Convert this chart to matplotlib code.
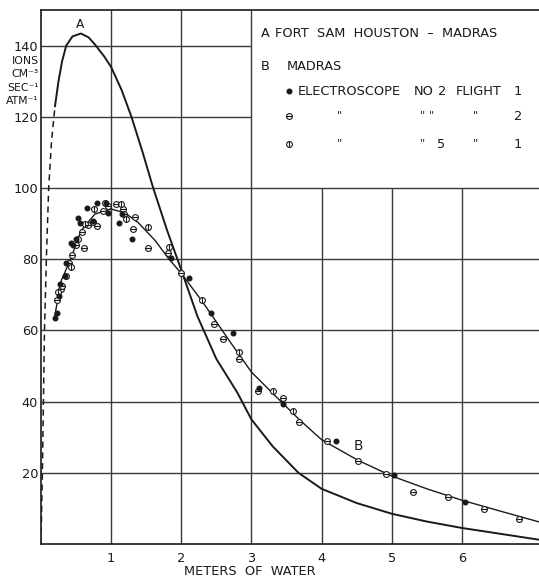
import matplotlib
matplotlib.use("Agg")
import matplotlib.pyplot as plt

plt.rcParams["font.family"] = "DejaVu Sans"

# curve A (Fort Sam Houston - Madras), dashed part near the surface
dash_x = [0.0, 0.02, 0.05, 0.08, 0.11, 0.15, 0.20]
dash_y = [0.0, 20.0, 60.0, 82.0, 100.0, 113.0, 123.0]
curveA_x = [0.20, 0.25, 0.30, 0.36, 0.45, 0.57, 0.68, 0.77, 0.90, 1.00, 1.15, 1.29,
            1.45, 1.60, 1.80, 2.00, 2.23, 2.50, 2.80, 3.00, 3.30, 3.67, 4.00, 4.50,
            5.00, 5.50, 6.00, 6.50, 7.10]
curveA_y = [123.0, 130.0, 135.5, 140.0, 142.6, 143.4, 142.3, 140.3, 137.0, 134.0, 127.5, 120.0,
            110.0, 100.0, 88.0, 77.0, 64.0, 52.0, 42.5, 35.0, 27.5, 20.0, 15.5, 11.5,
            8.5, 6.3, 4.5, 3.0, 1.2]

# curve B (Madras)
curveB_x = [0.19, 0.29, 0.43, 0.57, 0.77, 1.00, 1.20, 1.39, 1.63, 1.81, 2.00, 2.29,
            2.71, 3.00, 3.31, 3.68, 4.00, 4.52, 5.00, 5.50, 6.00, 6.50, 7.10]
curveB_y = [63.4, 74.0, 80.4, 88.0, 92.7, 94.1, 93.0, 90.2, 85.2, 80.4, 76.0, 68.4,
            56.4, 48.3, 42.2, 35.0, 29.3, 23.5, 19.1, 15.5, 12.3, 9.5, 6.2]

# electroscope no 2, flight 1 (filled dots)
e2f1_x = [0.20, 0.23, 0.26, 0.27, 0.34, 0.35, 0.43, 0.46, 0.50, 0.53, 0.56, 0.66, 0.74,
          0.80, 0.93, 0.96, 1.11, 1.16, 1.30, 1.85, 2.11, 2.43, 2.74, 3.11, 3.45,
          4.20, 5.03, 6.05]
e2f1_y = [63.4, 64.8, 69.8, 73.0, 75.4, 78.8, 84.6, 84.0, 85.8, 91.6, 90.2, 94.4, 90.8,
          95.8, 95.8, 93.0, 90.2, 92.7, 85.8, 80.2, 74.6, 64.8, 59.2, 43.8, 39.4,
          29.0, 19.3, 11.8]

# electroscope no 2, flight 2 (circle with horizontal bar)
e2f2_x = [0.23, 0.29, 0.30, 0.40, 0.44, 0.50, 0.59, 0.61, 0.67, 0.74, 0.80, 0.89, 0.96,
          1.07, 1.17, 1.19, 1.31, 1.34, 1.53, 1.81, 2.00, 2.46, 2.60, 2.82, 3.10,
          3.45, 3.68, 4.08, 4.52, 4.92, 5.31, 5.80, 6.32, 6.82]
e2f2_y = [68.4, 71.5, 72.6, 78.8, 81.3, 84.0, 87.7, 83.2, 89.7, 90.5, 89.4, 93.6, 95.0,
          95.5, 94.1, 92.7, 88.5, 91.9, 83.2, 81.6, 76.0, 61.7, 57.5, 52.0, 43.0,
          41.0, 34.4, 28.8, 23.4, 19.6, 14.6, 13.2, 9.8, 7.0]

# electroscope no 5, flight 1 (circle with vertical bar)
e5f1_x = [0.24, 0.36, 0.43, 0.53, 0.63, 0.76, 0.91, 1.14, 1.21, 1.53, 1.83, 2.29,
          2.82, 3.31, 3.59]
e5f1_y = [70.7, 75.4, 77.7, 85.8, 89.9, 94.1, 95.8, 95.5, 91.3, 89.1, 83.5, 68.4,
          54.0, 43.0, 37.4]

xticks = [1, 2, 3, 4, 5, 6]
yticks = [20, 40, 60, 80, 100, 120, 140]
ylabel_lines = ["IONS", "CM\u207b\u00b3", "SEC\u207b\u00b9", "ATM\u207b\u00b9"]

ink = "#1a1a1a"
grid_c = "#3a3a3a"
fs = 9.3

fig = plt.figure(figsize=(5.39, 5.79), dpi=100)
ax = fig.add_axes([0.076, 0.0605, 0.924, 0.9222])
ax.set_xlim(0, 7.1)
ax.set_ylim(0, 150)

# grid, leaving the legend box (upper right) clear
ax.vlines([1, 2, 3], 0, 150, color=grid_c, lw=1.0, zorder=1)
ax.vlines([4, 5, 6], 0, 100, color=grid_c, lw=1.0, zorder=1)
ax.hlines([20, 40, 60, 80, 100], 0, 7.1, color=grid_c, lw=1.0, zorder=1)
ax.hlines([120, 140], 0, 3, color=grid_c, lw=1.0, zorder=1)

# curves
ax.plot(dash_x, dash_y, color=ink, lw=1.1, dashes=(4, 3), zorder=3)
ax.plot(curveA_x, curveA_y, color=ink, lw=1.4, zorder=3)
ax.plot(curveB_x, curveB_y, color=ink, lw=1.0, zorder=3)

# points
ms = 4.2
ax.plot(e2f2_x, e2f2_y, "o", ms=ms, mfc="white", mec=ink, mew=0.8, zorder=4)
ax.plot(e2f2_x, e2f2_y, "_", ms=ms, mec=ink, mew=0.8, zorder=5)
ax.plot(e5f1_x, e5f1_y, "o", ms=ms, mfc="white", mec=ink, mew=0.8, zorder=4)
ax.plot(e5f1_x, e5f1_y, "|", ms=ms, mec=ink, mew=0.8, zorder=5)
ax.plot(e2f1_x, e2f1_y, "o", ms=3.3, mfc=ink, mec=ink, zorder=6)

# curve labels
ax.text(0.56, 146.0, "A", fontsize=fs - 0.5, color=ink, ha="center", va="center")
ax.text(4.52, 27.5, "B", fontsize=fs + 0.5, color=ink, ha="center", va="center")

# legend box
ax.text(3.14, 143.4, "A", fontsize=fs, color=ink, ha="left", va="center")
ax.text(3.33, 143.4, "FORT  SAM  HOUSTON  \u2013  MADRAS", fontsize=fs, color=ink, ha="left", va="center")
ax.text(3.14, 134.2, "B", fontsize=fs, color=ink, ha="left", va="center")
ax.text(3.50, 134.2, "MADRAS", fontsize=fs, color=ink, ha="left", va="center")

ax.plot([3.54], [127.2], "o", ms=3.3, mfc=ink, mec=ink)
ax.text(3.66, 127.2, "ELECTROSCOPE", fontsize=fs, color=ink, ha="left", va="center")
ax.text(5.32, 127.2, "NO", fontsize=fs, color=ink, ha="left", va="center")
ax.text(5.72, 127.2, "2", fontsize=fs, color=ink, ha="center", va="center")
ax.text(5.92, 127.2, "FLIGHT", fontsize=fs, color=ink, ha="left", va="center")
ax.text(6.80, 127.2, "1", fontsize=fs, color=ink, ha="center", va="center")

ax.plot([3.53], [120.2], "o", ms=ms, mfc="white", mec=ink, mew=0.8)
ax.plot([3.53], [120.2], "_", ms=ms, mec=ink, mew=0.8)
for xd in [4.26, 5.44, 5.57, 6.19]:
    ax.text(xd, 120.6, "\"", fontsize=8, color=ink, ha="center", va="center")
ax.text(6.80, 120.2, "2", fontsize=fs, color=ink, ha="center", va="center")

ax.plot([3.53], [112.3], "o", ms=ms, mfc="white", mec=ink, mew=0.8)
ax.plot([3.53], [112.3], "|", ms=ms, mec=ink, mew=0.8)
for xd in [4.26, 5.44, 6.19]:
    ax.text(xd, 112.7, "\"", fontsize=8, color=ink, ha="center", va="center")
ax.text(5.70, 112.3, "5", fontsize=fs, color=ink, ha="center", va="center")
ax.text(6.80, 112.3, "1", fontsize=fs, color=ink, ha="center", va="center")

# axes frame and ticks
for side in ["left", "bottom", "top"]:
    ax.spines[side].set_linewidth(1.2)
    ax.spines[side].set_color(ink)
ax.spines["right"].set_visible(False)

ax.set_xticks(xticks)
ax.set_xticklabels([str(v) for v in xticks])
ax.set_yticks(yticks)
ax.set_yticklabels([str(v) for v in yticks])
ax.tick_params(length=0, labelsize=fs, colors=ink)
ax.tick_params(axis="x", pad=6)
ax.tick_params(axis="y", pad=2)

ax.text(2.98, -7.8, "METERS  OF  WATER", fontsize=fs, color=ink, ha="center", va="center")

# units label stacked between 140 and 120
for yl, txt in zip([135.6, 131.9, 128.2, 124.5], ylabel_lines):
    ax.text(-0.03, yl, txt, fontsize=7.8, color=ink, ha="right", va="center")

fig.savefig("out.png", dpi=100)
